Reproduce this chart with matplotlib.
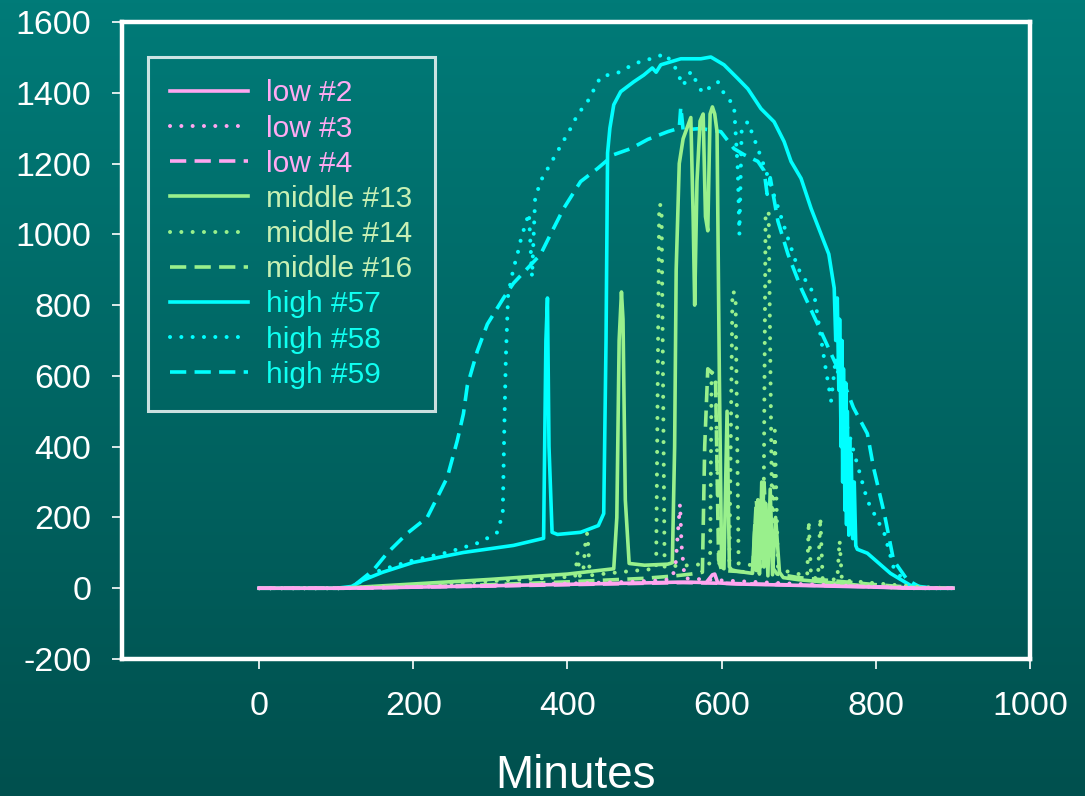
import numpy as np
import matplotlib.pyplot as plt
from matplotlib.colors import LinearSegmentedColormap

plt.rcParams['font.family'] = ['Liberation Sans', 'DejaVu Sans']
plt.rcParams['axes.unicode_minus'] = False

# 低 (low) 系列
low2_x = [0, 60, 110, 150, 200, 300, 400, 500, 540, 560, 580, 588, 591, 595, 620, 700, 800, 850, 900]
low2_y = [0, 0, 0, 1, 3, 7, 11, 15, 17, 17, 16, 38, 40, 15, 12, 8, 3, 0, 0]
low3_x = [0, 110, 150, 200, 300, 400, 480, 520, 535, 540, 544, 546, 548, 552, 600, 700, 800, 850, 900]
low3_y = [0, 0, 2, 4, 8, 13, 18, 22, 26, 60, 180, 238, 120, 28, 22, 12, 4, 0, 0]
low4_x = [0, 110, 200, 300, 400, 500, 550, 600, 700, 800, 860, 900]
low4_y = [0, 0, 3, 6, 10, 14, 16, 14, 9, 4, 0, 0]

# 中 (middle) 系列
mid13_x = [0, 100, 130, 200, 300, 400, 460, 464, 467, 470, 472, 475, 480, 500, 530, 536,
           539, 541, 545, 550, 555, 560, 563, 565, 568, 572, 576, 579, 582, 585, 588, 591,
           594, 597, 600, 603, 607, 610, 613, 620, 640, 643, 645, 647, 649, 652, 655, 657,
           660, 663, 666, 670, 675, 680, 700, 720, 740, 760, 780, 800, 820, 850, 900]
mid13_y = [0, 0, 3, 12, 25, 40, 55, 200, 700, 837, 760, 250, 70, 65, 68, 72,
           400, 900, 1200, 1270, 1300, 1330, 1050, 800, 1150, 1320, 1340, 1050, 1010, 1340, 1360, 1340,
           1290, 600, 60, 55, 500, 60, 52, 48, 42, 180, 50, 250, 40, 300, 60, 240,
           35, 280, 38, 200, 45, 30, 24, 20, 16, 12, 8, 4, 2, 0, 0]
mid14_x = [0, 110, 200, 300, 400, 410, 413, 416, 420, 424, 426, 429, 435, 480, 515, 519,
           522, 526, 530, 560, 585, 587, 592, 597, 610, 614, 618, 622, 640, 654, 657, 661,
           666, 669, 673, 680, 700, 711, 713, 716, 725, 728, 731, 745, 750, 753, 756, 780,
           820, 860, 900]
mid14_y = [0, 0, 8, 20, 32, 34, 99, 35, 36, 150, 155, 36, 38, 48, 55, 1085,
           1080, 60, 62, 65, 70, 610, 600, 70, 75, 840, 830, 70, 65, 60, 1065, 1060,
           80, 445, 60, 50, 40, 35, 190, 30, 28, 200, 28, 25, 24, 135, 22, 18,
           10, 3, 0]
mid16_x = [0, 110, 200, 300, 400, 500, 540, 560, 575, 578, 582, 592, 596, 600, 640, 645,
           650, 655, 660, 663, 667, 672, 700, 750, 800, 850, 900]
mid16_y = [0, 0, 4, 10, 18, 28, 35, 40, 45, 400, 620, 600, 80, 50, 45, 250,
           60, 300, 70, 230, 55, 40, 30, 20, 10, 2, 0]

# 高 (high) 系列
high57_x = [0, 100, 120, 135, 160, 200, 265, 330, 369, 372, 374, 376, 380, 387, 417, 440,
            447, 450, 452, 455, 460, 469, 486, 499, 510, 515, 521, 547, 573, 586, 603, 621,
            634, 651, 668, 681, 690, 703, 716, 729, 739, 746, 748, 750, 752, 753, 755, 756,
            757, 758, 760, 761, 762, 763, 765, 766, 767, 768, 770, 772, 774, 776, 789, 819,
            845, 875, 900]
high57_y = [0, 0, 5, 23, 45, 73, 101, 121, 141, 700, 820, 400, 158, 152, 158, 177,
            211, 700, 1230, 1300, 1366, 1403, 1431, 1450, 1470, 1458, 1479, 1496, 1496, 1501, 1479, 1440,
            1411, 1355, 1318, 1262, 1206, 1158, 1073, 1000, 944, 848, 700, 820, 560, 760, 400, 700,
            300, 620, 220, 580, 180, 500, 150, 420, 200, 380, 140, 300, 120, 110, 99, 42,
            8, 0, 0]
high58_x = [0, 110, 120, 157, 200, 244, 287, 309, 316, 318, 320, 323, 330, 335, 340, 350,
            354, 358, 365, 387, 404, 413, 426, 443, 469, 486, 508, 527, 540, 550, 560, 575,
            595, 605, 616, 621, 623, 626, 634, 647, 659, 672, 686, 699, 720, 735, 742, 748,
            760, 771, 789, 811, 823, 840, 860, 900]
high58_y = [0, 0, 3, 51, 79, 101, 130, 158, 211, 450, 650, 830, 904, 943, 990, 1060,
            880, 1100, 1150, 1234, 1299, 1338, 1375, 1445, 1459, 1482, 1496, 1510, 1470, 1420, 1460, 1400,
            1431, 1390, 1366, 1180, 1000, 1300, 1318, 1242, 1169, 1084, 989, 904, 831, 620, 530, 650,
            480, 389, 248, 155, 59, 10, 0, 0]
high59_x = [0, 110, 120, 148, 166, 192, 218, 231, 244, 257, 265, 270, 283, 296, 317, 330,
            365, 378, 395, 417, 439, 460, 482, 504, 530, 545, 547, 550, 573, 599, 616, 629,
            647, 655, 659, 663, 673, 686, 703, 730, 755, 771, 789, 797, 811, 823, 841, 860,
            900]
high59_y = [0, 0, 2, 51, 99, 155, 200, 256, 313, 417, 493, 572, 670, 746, 820, 862,
            943, 1000, 1073, 1149, 1186, 1225, 1242, 1268, 1290, 1300, 1360, 1295, 1299, 1290, 1242, 1225,
            1206, 1180, 1113, 1160, 1037, 944, 848, 720, 600, 510, 437, 341, 211, 79, 23, 0,
            0]

labels = ['low #2', 'low #3', 'low #4', 'middle #13', 'middle #14', 'middle #16',
          'high #57', 'high #58', 'high #59']

pink = '#ffa6f0'
green = '#99f08c'
cyan = '#00ffff'
dotted = (0, (0.01, 2.8))
dashed = (0, (4.5, 2.3))

series = [
    (low2_x, low2_y, pink, '-'),
    (low3_x, low3_y, pink, dotted),
    (low4_x, low4_y, pink, dashed),
    (mid13_x, mid13_y, green, '-'),
    (mid14_x, mid14_y, green, dotted),
    (mid16_x, mid16_y, green, dashed),
    (high57_x, high57_y, cyan, '-'),
    (high58_x, high58_y, cyan, dotted),
    (high59_x, high59_y, cyan, dashed),
]
text_colors = ['#ffaaf2'] * 3 + ['#c8f0b4'] * 3 + ['#10fff0'] * 3

fig = plt.figure(figsize=(10.85, 7.96), dpi=100)

# 渐变背景
bg = fig.add_axes([0, 0, 1, 1], zorder=0)
cmap = LinearSegmentedColormap.from_list('bg', ['#007b78', '#00504e'])
bg.imshow(np.linspace(0, 1, 256).reshape(-1, 1), aspect='auto', cmap=cmap, extent=[0, 1, 0, 1])
bg.axis('off')

ax = fig.add_axes([0.1124, 0.1721, 0.8369, 0.8003], zorder=1)
ax.patch.set_alpha(0)

handles = [None] * len(series)
# 先画高，再画中、低（低的在最上面）
for i in reversed(range(len(series))):
    x, y, c, ls = series[i]
    line, = ax.plot(x, y, color=c, linestyle=ls,
                    linewidth=2.9 if ls == dotted else 2.6,
                    dash_capstyle='round' if ls == dotted else 'butt',
                    label=labels[i])
    handles[i] = line

ax.set_xlim(-178, 1000)
ax.set_ylim(-200, 1600)
ax.set_xticks(np.arange(0, 1001, 200))
ax.set_yticks(np.arange(-200, 1601, 200))

for s in ax.spines.values():
    s.set_color('white')
    s.set_linewidth(3.2)
ax.tick_params(colors='white', labelsize=24.5, width=1.2, length=7)
ax.tick_params(axis='x', pad=16)
ax.tick_params(axis='y', pad=15)

ax.set_xlabel('Minutes', color='white', fontsize=33, labelpad=23)

leg = ax.legend(handles, labels, loc='upper left', bbox_to_anchor=(0.0286, 0.945),
                borderaxespad=0, fontsize=21.5, frameon=True, fancybox=False,
                handlelength=2.6, handletextpad=0.6, labelspacing=0.24, borderpad=0.75)
leg.get_frame().set_facecolor('none')
leg.get_frame().set_edgecolor('white')
leg.get_frame().set_linewidth(2.2)
for t, c in zip(leg.get_texts(), text_colors):
    t.set_color(c)

fig.savefig('out.png', dpi=100)
